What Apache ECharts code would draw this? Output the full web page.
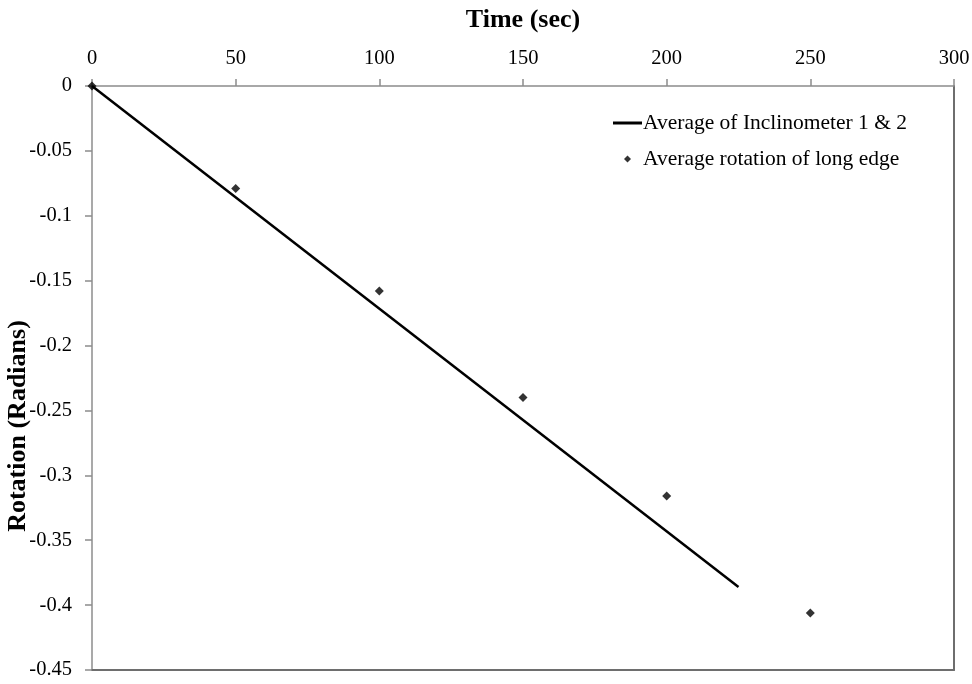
<!DOCTYPE html>
<html>
<head>
<meta charset="utf-8">
<script src="https://cdn.jsdelivr.net/npm/echarts@6/dist/echarts.min.js"></script>
<style>html,body{margin:0;padding:0;background:#fff}#c{width:972px;height:684px}</style>
</head>
<body>
<div id="c"></div>
<script>
const lineName = 'Average of Inclinometer 1 & 2';
const pointName = 'Average rotation of long edge';
const lineTime = [0, 225];
const lineRotation = [0, -0.386];
const pointTime = [0, 50, 100, 150, 200, 250];
const pointRotation = [0, -0.079, -0.158, -0.240, -0.316, -0.406];
const xTitle = 'Time (sec)';
const yTitle = 'Rotation (Radians)';

const font = 'Liberation Serif';
const chart = echarts.init(document.getElementById('c'), null, {renderer: 'canvas'});
chart.setOption({
  backgroundColor: '#fff',
  animation: false,
  grid: {left: 92, top: 86, right: 18, bottom: 14, containLabel: false, outerBoundsMode: 'none'},
  legend: {
    orient: 'vertical', left: 613, top: 112, padding: 0, itemGap: 14, itemWidth: 29, itemHeight: 7,
    textStyle: {fontFamily: font, fontSize: 21.5, color: '#000', padding: [0, 0, 0, -4]},
    data: [
      {name: lineName, icon: 'path://M0,0L29,0L29,3L0,3Z', itemStyle: {color: '#000'}},
      {name: pointName, icon: 'path://M4,0L8,4L4,8L0,4Z', itemStyle: {color: '#000'}}
    ]
  },
  xAxis: [{
    type: 'value', position: 'top', min: 0, max: 300, interval: 50,
    name: xTitle, nameLocation: 'middle', nameGap: 53,
    nameTextStyle: {fontFamily: font, fontSize: 26, fontWeight: 'bold', color: '#000'},
    axisLine: {show: true, onZero: false, lineStyle: {color: '#8c8c8c', width: 1.5}},
    axisTick: {show: true, inside: false, length: 7, lineStyle: {color: '#8c8c8c', width: 1.5}},
    axisLabel: {fontFamily: font, fontSize: 20.5, color: '#000', margin: 17},
    splitLine: {show: false}
  }, {
    type: 'value', position: 'bottom', min: 0, max: 300,
    axisLine: {show: true, onZero: false, lineStyle: {color: '#6e6e6e', width: 2}},
    axisTick: {show: false}, axisLabel: {show: false}, splitLine: {show: false}
  }],
  yAxis: [{
    type: 'value', min: -0.45, max: 0, interval: 0.05,
    name: yTitle, nameLocation: 'middle', nameGap: 61, nameRotate: 90, nameMoveOverlap: false,
    nameTextStyle: {fontFamily: font, fontSize: 26, fontWeight: 'bold', color: '#000', padding: [0, 96, 0, 0]},
    axisLine: {show: true, onZero: false, lineStyle: {color: '#8c8c8c', width: 1.5}},
    axisTick: {show: true, inside: false, length: 7, lineStyle: {color: '#8c8c8c', width: 1.5}},
    axisLabel: {fontFamily: font, fontSize: 20.5, color: '#000', margin: 20,
      formatter: v => String(parseFloat(v.toFixed(2)))},
    splitLine: {show: false}
  }, {
    type: 'value', position: 'right', min: -0.45, max: 0,
    axisLine: {show: true, onZero: false, lineStyle: {color: '#6e6e6e', width: 2}},
    axisTick: {show: false}, axisLabel: {show: false}, splitLine: {show: false}
  }],
  series: [{
    name: lineName, type: 'line', symbol: 'none',
    data: lineTime.map((t, i) => [t, lineRotation[i]]),
    lineStyle: {color: '#000', width: 2.5}, itemStyle: {color: '#000'}
  }, {
    name: pointName, type: 'scatter', symbol: 'diamond', symbolSize: 9,
    data: pointTime.map((t, i) => [t, pointRotation[i]]),
    itemStyle: {color: '#000'}
  }]
});
</script>
</body>
</html>
